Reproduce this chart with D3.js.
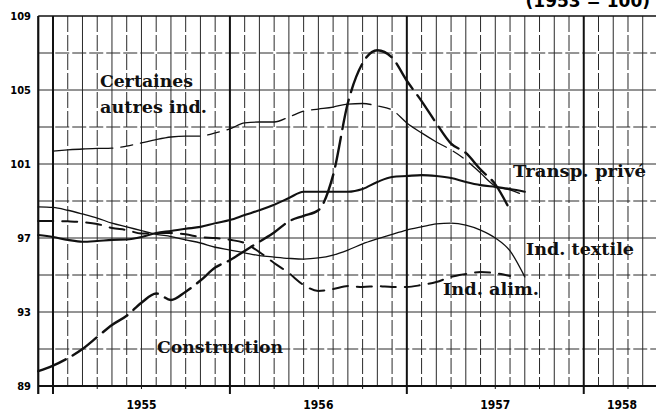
<!DOCTYPE html>
<html>
<head>
<meta charset="utf-8">
<script src="https://cdn.jsdelivr.net/npm/d3@7"></script>
<style>
  body { margin: 0; background: #fff; }
  svg { display: block; }
</style>
</head>
<body>
<div id="chart"></div>
<script>
//monthly index values, month 0 = January 1955

//years shown on the x axis
var years = [1955, 1956, 1957, 1958];
var yTicks = [89, 93, 97, 101, 105, 109];

//Construction starts December 1954 (month -1)
var constructionStart = -1;
var construction = [89.8, 90.1, 90.5, 91.0, 91.65, 92.3, 92.8, 93.5, 94.0, 93.65, 94.1, 94.7,
  95.4, 95.8, 96.3, 96.8, 97.3, 97.9, 98.2, 98.5, 100.4, 104.3, 106.45, 107.15,
  106.75, 105.5, 104.4, 103.2, 102.1, 101.6, 100.7, 99.9, 98.5];

var transpStart = -1;
var transpPrive = [97.16, 97.05, 96.9, 96.8, 96.84, 96.9, 96.92, 97.05, 97.27, 97.38, 97.5, 97.6,
  97.8, 97.97, 98.24, 98.5, 98.8, 99.16, 99.5, 99.5, 99.5, 99.5, 99.65, 100.03,
  100.3, 100.35, 100.4, 100.35, 100.24, 100.03, 99.86, 99.76, 99.65, 99.5];

var textileStart = -1;
var indTextile = [98.68, 98.65, 98.5, 98.3, 98.08, 97.8, 97.6, 97.4, 97.2, 97.08, 96.9, 96.73,
  96.5, 96.35, 96.2, 96.05, 95.97, 95.9, 95.86, 95.92, 96.08, 96.35, 96.68, 96.95,
  97.2, 97.43, 97.6, 97.76, 97.8, 97.7, 97.43, 97.0, 96.3, 94.9];

var alimStart = -1;
var indAlim = [97.92, 97.92, 97.9, 97.86, 97.76, 97.54, 97.43, 97.24, 97.27, 97.27, 97.2, 97.05,
  97.0, 96.9, 96.73, 96.24, 95.65, 95.1, 94.46, 94.14, 94.24, 94.4, 94.35, 94.4,
  94.35, 94.35, 94.46, 94.62, 94.9, 95.05, 95.16, 95.1, 94.95];

var autresStart = 0;
var autresInd = [101.7, 101.76, 101.81, 101.84, 101.86, 101.97, 102.14, 102.32, 102.46, 102.51, 102.51, 102.68,
  102.9, 103.22, 103.27, 103.27, 103.54, 103.86, 103.97, 104.08, 104.24, 104.27, 104.14, 103.92,
  103.22, 102.68, 102.19, 101.76, 101.22, 100.51, 99.81, 99.6, 99.3];

var width = 656, height = 412;

//chart area
var svg = d3.select('#chart')
  .append('svg')
  .attr('width', width)
  .attr('height', height);

var x = d3.scaleLinear().domain([-1, 40.9]).range([38.25, width]);
var y = d3.scaleLinear().domain([89, 109]).range([386, 16]);

//title runs off the top of the scan, only its lower half shows
svg.append('text')
  .attr('x', 650)
  .attr('y', 7)
  .attr('text-anchor', 'end')
  .attr('font-family', 'DejaVu Sans')
  .attr('font-weight', 'bold')
  .attr('font-size', 17)
  .text('(1953 = 100)');

//vertical month grid
var months = d3.range(-1, 41);
svg.append('g')
  .selectAll('line')
  .data(months.filter(function(m) { return m % 12 != 0 && m > -1; }))
  .enter()
  .append('line')
  .attr('x1', function(d) { return x(d); })
  .attr('x2', function(d) { return x(d); })
  .attr('y1', y(109))
  .attr('y2', y(89))
  .attr('stroke', '#2a2a2a')
  .attr('stroke-width', 1)
  .attr('stroke-dasharray', function(d) { return Math.abs(d) % 2 == 1 ? '16,3' : null; });

//horizontal grid every 2 points
var hLines = d3.range(91, 109, 2);
svg.append('g')
  .selectAll('line')
  .data(hLines)
  .enter()
  .append('line')
  .attr('x1', x(-1))
  .attr('x2', width)
  .attr('y1', function(d) { return y(d); })
  .attr('y2', function(d) { return y(d); })
  .attr('stroke', '#2a2a2a')
  .attr('stroke-width', 1)
  .attr('stroke-dasharray', function(d) { return (d - 89) % 4 == 0 ? null : '14,3'; });

//top border
svg.append('line')
  .attr('x1', x(-1)).attr('x2', width)
  .attr('y1', y(109)).attr('y2', y(109))
  .attr('stroke', '#111').attr('stroke-width', 1.6);

//year lines, thick, running past the axis
svg.append('g')
  .selectAll('line')
  .data(years)
  .enter()
  .append('line')
  .attr('x1', function(d) { return x((d - 1955) * 12); })
  .attr('x2', function(d) { return x((d - 1955) * 12); })
  .attr('y1', y(109))
  .attr('y2', y(89) + 8)
  .attr('stroke', '#111')
  .attr('stroke-width', 2);

//small quarter ticks under the axis
svg.append('g')
  .selectAll('line')
  .data(months.filter(function(m) { return m % 3 == 0 && m % 12 != 0; }))
  .enter()
  .append('line')
  .attr('x1', function(d) { return x(d); })
  .attr('x2', function(d) { return x(d); })
  .attr('y1', y(89))
  .attr('y2', y(89) + 3)
  .attr('stroke', '#111')
  .attr('stroke-width', 1);

//axes
svg.append('line')
  .attr('x1', x(-1)).attr('x2', width)
  .attr('y1', y(89)).attr('y2', y(89))
  .attr('stroke', '#111').attr('stroke-width', 2.2);
svg.append('line')
  .attr('x1', x(-1)).attr('x2', x(-1))
  .attr('y1', y(109)).attr('y2', y(89) + 8)
  .attr('stroke', '#111').attr('stroke-width', 2.2);

//tick labels
svg.append('g')
  .selectAll('text')
  .data(yTicks)
  .enter()
  .append('text')
  .attr('x', 31)
  .attr('y', function(d) { return y(d); })
  .attr('dy', '0.35em')
  .attr('text-anchor', 'end')
  .attr('font-family', 'DejaVu Sans Condensed, DejaVu Sans')
  .attr('font-weight', 'bold')
  .attr('font-size', 11)
  .text(function(d) { return d; });

svg.append('g')
  .selectAll('text')
  .data(years)
  .enter()
  .append('text')
  .attr('x', function(d) { return Math.min(x((d - 1955) * 12 + 6), width - 34); })
  .attr('y', 409)
  .attr('text-anchor', 'middle')
  .attr('font-family', 'DejaVu Sans Condensed, DejaVu Sans')
  .attr('font-weight', 'bold')
  .attr('font-size', 12)
  .text(function(d) { return d; });

//series lines
var series = [
  {values: autresInd, start: autresStart, width: 1.3, dash: '60,8,12,8'},
  {values: indTextile, start: textileStart, width: 1.3, dash: null},
  {values: indAlim, start: alimStart, width: 2, dash: '15,9'},
  {values: transpPrive, start: transpStart, width: 2.1, dash: null},
  {values: construction, start: constructionStart, width: 2.4, dash: '30,8'}
];

var line = d3.line()
  .x(function(d) { return x(d[0]); })
  .y(function(d) { return y(d[1]); })
  .curve(d3.curveMonotoneX);

svg.append('g')
  .selectAll('path')
  .data(series)
  .enter()
  .append('path')
  .attr('d', function(s) {
    return line(s.values.map(function(v, i) { return [s.start + i, v]; }));
  })
  .attr('fill', 'none')
  .attr('stroke', '#111')
  .attr('stroke-width', function(s) { return s.width; })
  .attr('stroke-dasharray', function(s) { return s.dash; })
  .attr('stroke-linecap', 'round');

//series labels
var labels = [
  {text: 'Certaines', x: 100, y: 87, len: 93},
  {text: 'autres ind.', x: 100, y: 113, len: 107},
  {text: 'Transp. privé', x: 513, y: 177, len: 133},
  {text: 'Ind. textile', x: 526, y: 255, len: 108},
  {text: 'Ind. alim.', x: 443, y: 295, len: 96},
  {text: 'Construction', x: 157, y: 353, len: 126}
];

svg.append('g')
  .selectAll('text')
  .data(labels)
  .enter()
  .append('text')
  .attr('x', function(d) { return d.x; })
  .attr('y', function(d) { return d.y; })
  .attr('textLength', function(d) { return d.len; })
  .attr('lengthAdjust', 'spacingAndGlyphs')
  .attr('font-family', 'DejaVu Serif')
  .attr('font-weight', 'bold')
  .attr('font-size', 16)
  .attr('fill', '#111')
  .text(function(d) { return d.text; });
</script>
</body>
</html>
